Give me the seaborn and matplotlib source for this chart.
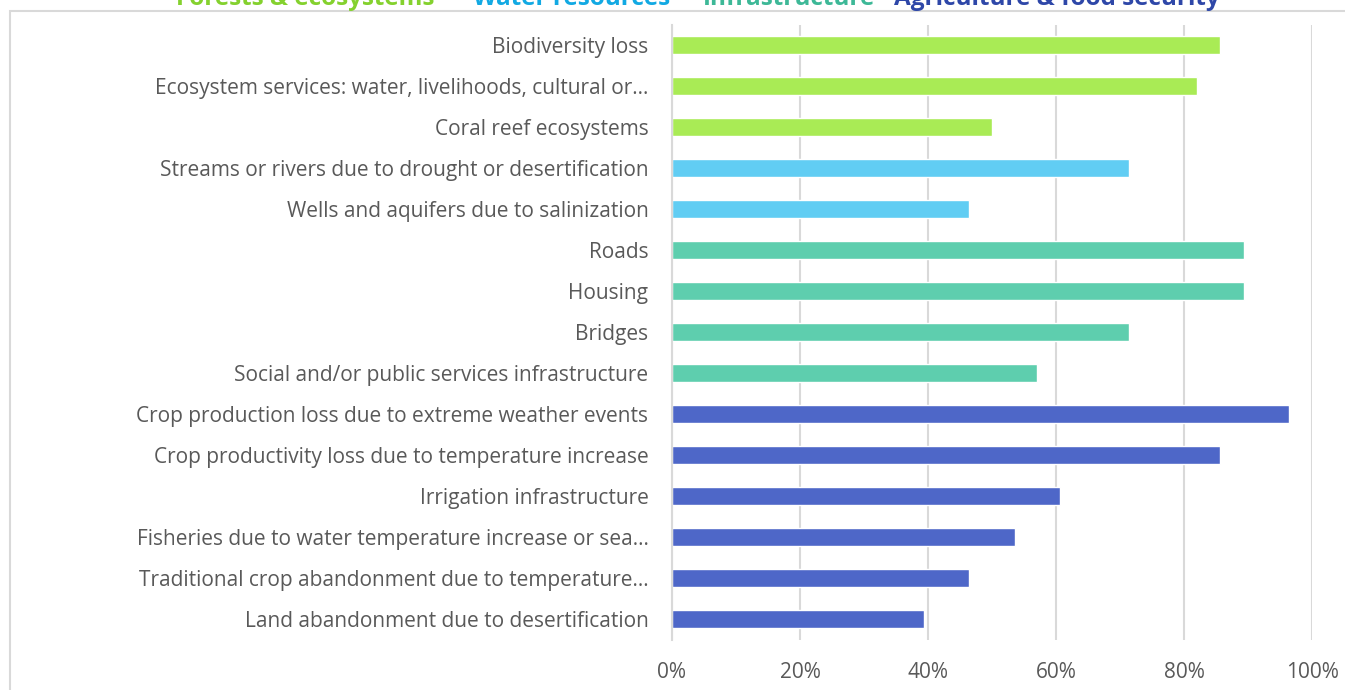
import matplotlib
matplotlib.use("Agg")
import matplotlib.pyplot as plt
import seaborn as sns
import pandas as pd
from matplotlib.patches import Rectangle

categories = [
    "Biodiversity loss",
    "Ecosystem services: water, livelihoods, cultural or…",
    "Coral reef ecosystems",
    "Streams or rivers due to drought or desertification",
    "Wells and aquifers due to salinization",
    "Roads",
    "Housing",
    "Bridges",
    "Social and/or public services infrastructure",
    "Crop production loss due to extreme weather events",
    "Crop productivity loss due to temperature increase",
    "Irrigation infrastructure",
    "Fisheries due to water temperature increase or sea…",
    "Traditional crop abandonment due to temperature…",
    "Land abandonment due to desertification",
]
values = [0.857, 0.821, 0.50, 0.714, 0.464, 0.893, 0.893, 0.714, 0.571,
          0.964, 0.857, 0.607, 0.536, 0.464, 0.393]
groups = (["Forests & ecosystems"] * 3 + ["Water resources"] * 2 +
          ["Infrastructure"] * 4 + ["Agriculture & food security"] * 6)
group_names = ["Forests & ecosystems", "Water resources", "Infrastructure",
               "Agriculture & food security"]
bar_colors = ["#A9EB55", "#61CDF3", "#5ECEAE", "#4E67C8"]
text_colors = ["#84D12E", "#12A9E3", "#3DB897", "#2E47A8"]
x_ticks = [0, 0.2, 0.4, 0.6, 0.8, 1.0]
x_tick_labels = ["0%", "20%", "40%", "60%", "80%", "100%"]

df = pd.DataFrame({"category": categories, "value": values, "group": groups})

sns.set_theme(style="white")
plt.rcParams["font.family"] = ["Open Sans", "DejaVu Sans"]

fig = plt.figure(figsize=(13.45, 6.9), dpi=100)
W, H = 1345, 690
ax = fig.add_axes([672 / W, 1 - 639.5 / H, (1312 - 672) / W, (639.5 - 24.5) / H])

sns.barplot(data=df, y="category", x="value", hue="group", hue_order=group_names,
            palette=dict(zip(group_names, bar_colors)), dodge=False, width=0.46,
            order=categories, ax=ax, legend=False, saturation=1)

ax.set_xlim(0, 1.0)
ax.set_ylim(len(categories) - 0.5, -0.5)
ax.set_xticks(x_ticks)
ax.set_xticklabels(x_tick_labels)
ax.set_xlabel("")
ax.set_ylabel("")
ax.xaxis.grid(True, color="#D9D9D9", linewidth=1.5)
ax.set_axisbelow(True)
for s in ["top", "right", "bottom"]:
    ax.spines[s].set_visible(False)
ax.spines["left"].set_color("#D9D9D9")
ax.spines["left"].set_linewidth(1.5)
ax.tick_params(axis="both", length=0, labelsize=15, labelcolor="#595959")
ax.tick_params(axis="x", pad=16)
ax.tick_params(axis="y", pad=17)

# outer chart frame
fig.patches.append(Rectangle((10 / W, -0.05), 1.2, 1 - 11 / H + 0.05,
                             transform=fig.transFigure, fill=False,
                             edgecolor="#D9D9D9", linewidth=1.5, zorder=0))

# legend text (partly cut off at top, as in the reference)
leg_x = [176, 473, 703, 894]
for name, col, lx in zip(group_names, text_colors, leg_x):
    fig.text(lx / W, 1 - 5 / H, name, color=col, fontsize=17.5, fontweight="bold",
             ha="left", va="baseline")

fig.savefig("out.png", dpi=100)
